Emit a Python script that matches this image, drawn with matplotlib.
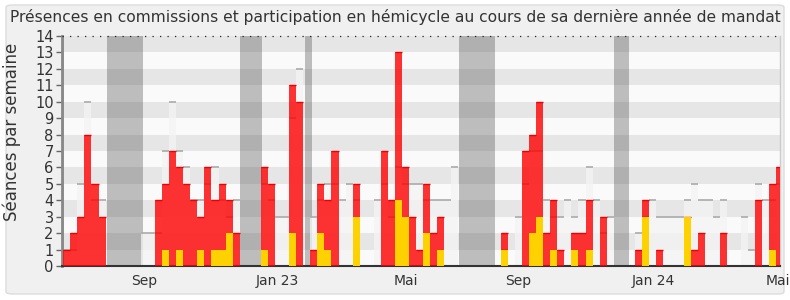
import matplotlib
matplotlib.use("Agg")
import matplotlib.pyplot as plt
from matplotlib.patches import FancyBboxPatch
import numpy as np

# ---- data (one entry per week) ----
presence_total = [1, 2, 3, 8, 5, 3, 0, 0, 0, 0, 0, 0, 0, 4, 5, 7, 6, 5, 4, 3,
                  6, 4, 5, 4, 2, 0, 0, 0, 6, 5, 0, 0, 11, 10, 0, 1, 5, 4, 7, 0,
                  0, 5, 0, 0, 0, 7, 4, 13, 6, 3, 1, 5, 2, 3, 0, 0, 0, 0, 0, 0,
                  0, 0, 2, 0, 0, 7, 8, 10, 2, 4, 1, 0, 2, 2, 4, 0, 3, 0, 0, 0,
                  0, 1, 4, 0, 1, 0, 0, 0, 3, 1, 2, 0, 0, 2, 0, 0, 0, 0, 4, 0,
                  5, 6]
hemicycle = [0, 0, 0, 0, 0, 0, 0, 0, 0, 0, 0, 0, 0, 0, 1, 0, 1, 0, 0, 1,
             0, 1, 1, 2, 0, 0, 0, 0, 1, 0, 0, 0, 2, 0, 0, 0, 2, 1, 0, 0,
             0, 3, 0, 0, 0, 0, 0, 4, 3, 0, 0, 2, 0, 1, 0, 0, 0, 0, 0, 0,
             0, 0, 1, 0, 0, 0, 2, 3, 0, 1, 0, 0, 1, 0, 1, 0, 0, 0, 0, 0,
             0, 0, 3, 0, 0, 0, 0, 0, 3, 0, 0, 0, 0, 0, 0, 0, 0, 0, 0, 0,
             1, 0]
median_all = [1, 1, 5, 10, 4, 4, 0, 0, 0, 0, 0, 2, 2, 2, 7, 10, 7, 6, 4, 4,
              5, 6, 4, 3, 4, 0, 0, 0, 5, 4, 3, 3, 9, 12, 0, 3, 4, 5, 5, 4,
              5, 4, 0, 0, 4, 5, 3, 6, 5, 5, 5, 4, 4, 4, 4, 6, 0, 0, 0, 0,
              0, 0, 1, 0, 3, 5, 7, 7, 4, 3, 3, 4, 3, 4, 6, 4, 2, 3, 0, 0,
              0, 2, 3, 4, 3, 3, 3, 3, 4, 5, 4, 4, 3, 4, 0, 0, 3, 1, 5, 4,
              4, 5]
vacations = [(-0.5, 0.1), (6.15, 11.3), (25.1, 28.1), (34.2, 35.2),
             (56.07, 61.17), (78.04, 80.2)]
tick_weeks = [11.4, 30.4, 48.6, 64.4, 83.6, 101.3]
tick_labels = ["Sep", "Jan 23", "Mai", "Sep", "Jan 24", "Mai"]

title = ("Présences en commissions et participation en hémicycle "
         "au cours de sa dernière année de mandat")

W, H = 790, 300
fig = plt.figure(figsize=(W / 100, H / 100), dpi=100)
fig.patch.set_facecolor("white")
box = FancyBboxPatch((6 / W, 6 / H), 778 / W, 289 / H,
                     boxstyle="round,pad=0,rounding_size=0.008",
                     transform=fig.transFigure, facecolor="#f0f0f0",
                     edgecolor="#dcdcdc", linewidth=1.0, zorder=-10)
fig.add_artist(box)

ax = fig.add_axes([62 / W, 34 / H, 718 / W, 230 / H])
ax.set_zorder(1)
ax.set_facecolor("#fafafa")
ax.set_xlim(-0.18, 101.56)
ax.set_ylim(0, 14)

# horizontal bands
for k in range(14):
    ax.axhspan(k, k + 1, color="#e6e6e6" if k % 2 == 1 else "#fafafa",
               lw=0, zorder=0)

n = min(len(presence_total), len(hemicycle), len(median_all))
x = np.arange(n)
red = np.array(presence_total[:n])
yel = np.array(hemicycle[:n])
med = np.array(median_all[:n])

# median bars
ax.bar(x, med, width=1.0, align="edge", color="#f4f4f4", alpha=0.75,
       lw=0, zorder=2)
ax.hlines(med[med > 0], x[med > 0], x[med > 0] + 1, color="#aaaaaa",
          lw=1.2, zorder=2.5)

# vacation bands
for a, b in vacations:
    ax.axvspan(a, b, color="#333333", alpha=0.3, lw=0, zorder=1.5)

# red = total presences
ax.bar(x, red, width=1.0, align="edge", color="#ff0000", alpha=0.8,
       lw=0, zorder=3)
ax.hlines(red[red > 0], x[red > 0], x[red > 0] + 1, color="#ee0000",
          lw=1.0, zorder=3.5)
# yellow = hemicycle
ax.bar(x, yel, width=1.0, align="edge", color="#ffd700", alpha=0.97,
       lw=0, zorder=4)

# top dotted line
ax.axhline(14, color="#222222", lw=0.9, linestyle=(0, (1, 5)), zorder=5,
           clip_on=False)

ax.spines["top"].set_visible(False)
ax.spines["right"].set_color("#cccccc")
ax.spines["right"].set_linewidth(1.0)
ax.spines["left"].set_color("#888888")
ax.spines["left"].set_linewidth(2.0)
ax.spines["bottom"].set_color("#333333")
ax.spines["bottom"].set_linewidth(1.5)

ax.set_yticks(range(0, 15))
ax.set_yticklabels([str(v) for v in range(0, 15)])
ax.tick_params(axis="y", length=4, width=1, color="#666666",
               labelsize=10.5, labelcolor="#333333", pad=2)
ax.set_xticks(tick_weeks)
ax.set_xticklabels(tick_labels)
ax.tick_params(axis="x", length=0, labelsize=10, labelcolor="#333333", pad=6)

fig.text(0.5, 1 - 17 / H, title, ha="center", va="center", fontsize=11.2,
         color="#333333")
fig.text(12 / W, 1 - 132 / H, "Séances par semaine", rotation=90,
         ha="center", va="center", fontsize=12, color="#333333")

fig.savefig("out.png", dpi=100, facecolor=fig.get_facecolor())
